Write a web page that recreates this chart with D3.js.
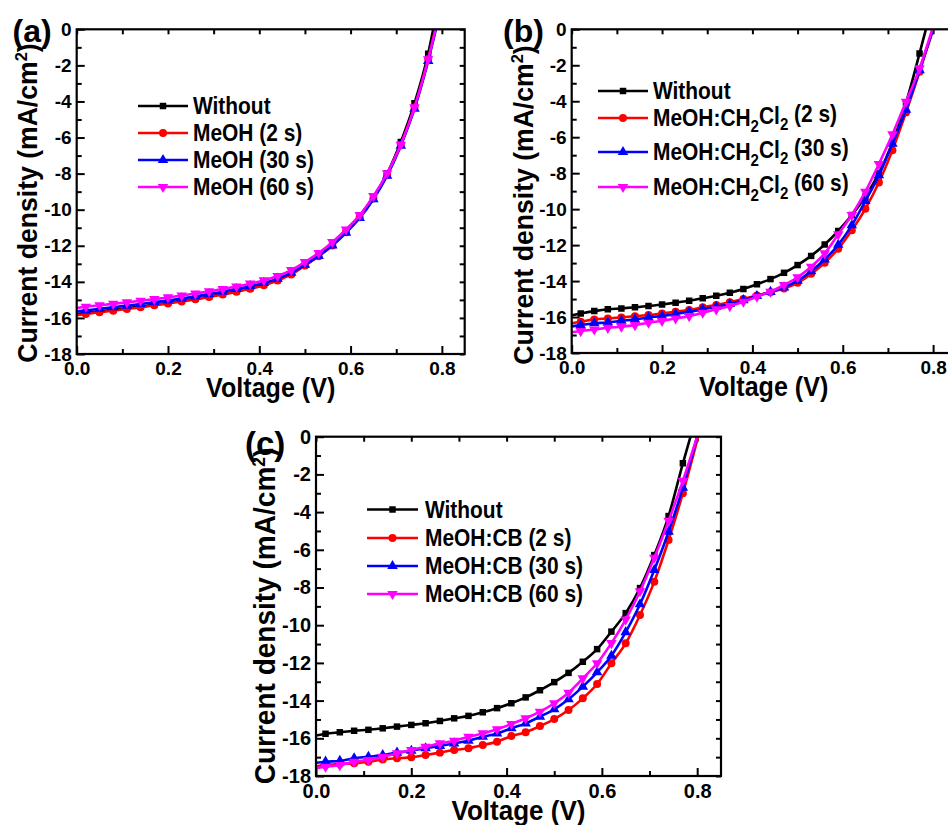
<!DOCTYPE html>
<html>
<head>
<meta charset="utf-8">
<script src="https://cdn.jsdelivr.net/npm/d3@7"></script>
<style>
body{margin:0;background:#fff;}
svg text{font-family:"Liberation Sans",Arial,sans-serif;font-weight:bold;fill:#000;}
</style>
</head>
<body>
<script>
// voltage points (V); first point is the curve start, the rest carry markers
var voltage=[0.00,0.02,0.05,0.08,0.11,0.14,0.17,0.20,0.23,0.26,0.29,0.32,0.35,0.38,0.41,0.44,0.47,0.50,0.53,0.56,0.59,0.62,0.65,0.68,0.71,0.74,0.77];

// panel (a) - MeOH
var aWithout=[-15.80,-15.72,-15.63,-15.55,-15.46,-15.37,-15.26,-15.16,-15.05,-14.94,-14.81,-14.67,-14.52,-14.35,-14.16,-13.90,-13.55,-13.07,-12.55,-11.95,-11.20,-10.35,-9.30,-8.00,-6.25,-4.10,-1.35];
var aMeoh2=[-15.85,-15.78,-15.68,-15.60,-15.50,-15.41,-15.30,-15.20,-15.09,-14.97,-14.84,-14.70,-14.55,-14.38,-14.19,-13.93,-13.59,-13.10,-12.58,-11.98,-11.25,-10.42,-9.38,-8.08,-6.40,-4.33,-1.65];
var aMeoh30=[-15.65,-15.58,-15.49,-15.41,-15.32,-15.23,-15.13,-15.03,-14.92,-14.81,-14.68,-14.55,-14.40,-14.24,-14.06,-13.82,-13.50,-13.05,-12.56,-11.98,-11.28,-10.46,-9.42,-8.12,-6.45,-4.40,-1.75];
var aMeoh60=[-15.45,-15.38,-15.30,-15.22,-15.14,-15.05,-14.96,-14.86,-14.76,-14.65,-14.53,-14.40,-14.26,-14.10,-13.92,-13.68,-13.35,-12.90,-12.40,-11.80,-11.10,-10.30,-9.25,-7.98,-6.40,-4.32,-1.66];
var aVoc=[0.781,0.786,0.787,0.786];
var aLabels=["Without","MeOH (2 s)","MeOH (30 s)","MeOH (60 s)"];

// panel (b) - MeOH:CH2Cl2
var bWithout=[-15.90,-15.80,-15.67,-15.57,-15.52,-15.46,-15.39,-15.30,-15.20,-15.09,-14.96,-14.82,-14.65,-14.44,-14.18,-13.89,-13.54,-13.11,-12.60,-11.97,-11.21,-10.33,-9.31,-8.00,-6.30,-4.10,-1.34];
var bDcm2=[-16.35,-16.26,-16.13,-16.08,-16.02,-15.95,-15.89,-15.80,-15.71,-15.61,-15.46,-15.33,-15.18,-15.00,-14.80,-14.62,-14.42,-14.10,-13.60,-12.98,-12.20,-11.18,-9.98,-8.52,-6.72,-4.62,-2.36];
var bDcm30=[-16.52,-16.45,-16.35,-16.30,-16.21,-16.13,-16.02,-15.95,-15.83,-15.71,-15.57,-15.43,-15.28,-15.06,-14.83,-14.60,-14.35,-13.98,-13.45,-12.80,-11.98,-10.90,-9.55,-8.12,-6.36,-4.47,-2.28];
var bDcm60=[-16.85,-16.78,-16.69,-16.60,-16.54,-16.45,-16.32,-16.21,-16.08,-15.95,-15.76,-15.57,-15.39,-15.15,-14.87,-14.59,-14.22,-13.79,-13.20,-12.46,-11.40,-10.33,-9.03,-7.49,-5.84,-4.03,-2.17];
var bVoc=[0.784,0.800,0.800,0.798];
var bLabels=["Without","MeOH:CH_2Cl_2 (2 s)","MeOH:CH_2Cl_2 (30 s)","MeOH:CH_2Cl_2 (60 s)"];

// panel (c) - MeOH:CB
var cWithout=[-15.85,-15.76,-15.68,-15.60,-15.55,-15.47,-15.38,-15.29,-15.20,-15.08,-14.94,-14.81,-14.62,-14.40,-14.14,-13.83,-13.45,-13.02,-12.53,-11.94,-11.27,-10.34,-9.36,-8.03,-6.28,-4.21,-1.41];
var cCb2=[-17.48,-17.42,-17.36,-17.33,-17.24,-17.12,-17.06,-17.01,-16.89,-16.76,-16.62,-16.53,-16.36,-16.18,-15.88,-15.68,-15.35,-14.98,-14.50,-13.88,-13.12,-12.02,-10.96,-9.46,-7.69,-5.48,-3.00];
var cCb30=[-17.30,-17.24,-17.20,-17.06,-16.98,-16.89,-16.76,-16.66,-16.53,-16.41,-16.27,-16.13,-15.92,-15.74,-15.47,-15.21,-14.85,-14.46,-13.93,-13.26,-12.50,-11.62,-10.37,-8.89,-7.07,-5.04,-2.70];
var cCb60=[-17.58,-17.51,-17.42,-17.24,-17.15,-16.98,-16.80,-16.62,-16.45,-16.27,-16.13,-15.92,-15.74,-15.52,-15.24,-14.94,-14.59,-14.14,-13.58,-12.82,-12.02,-10.95,-9.70,-8.20,-6.42,-4.46,-2.34];
var cVoc=[0.786,0.802,0.800,0.800];
var cLabels=["Without","MeOH:CB (2 s)","MeOH:CB (30 s)","MeOH:CB (60 s)"];

var xTicks=[0,0.2,0.4,0.6,0.8];
var xMinor=[0.1,0.3,0.5,0.7];
var yTicks=[-18,-16,-14,-12,-10,-8,-6,-4,-2,0];
var yMinor=[-17,-15,-13,-11,-9,-7,-5,-3,-1];

var colors=["#000000","#ff0000","#0000ff","#ff00ff"];
var shapes=[d3.symbolSquare,d3.symbolCircle,d3.symbolTriangle,d3.symbolTriangle];
var shapeRot=[0,0,0,180];
var shapeSize=[42,50,48,48];

var W=948,H=825;
var svg=d3.select("body").append("svg").attr("width",W).attr("height",H);
var defs=svg.append("defs");

var panels=[
  {id:"a",series:[aWithout,aMeoh2,aMeoh30,aMeoh60],voc:aVoc,labels:aLabels,
   left:76.7,top:29.3,w:388,h:324.7,tickFont:19,
   tag:"(a)",tagX:12.5,tagY:41.6,tagFont:32,
   yTitleX:37,yTitleY:203,yTitleFont:28,xTitleY:397.3,xTitleFont:27,
   legX1:138,legX2:188,legTX:193,legY:[106,133,160,187],legFont:23},
  {id:"b",series:[bWithout,bDcm2,bDcm30,bDcm60],voc:bVoc,labels:bLabels,
   left:571.7,top:29.3,w:384,h:323.7,tickFont:19,
   tag:"(b)",tagX:503,tagY:41.6,tagFont:32,
   yTitleX:533,yTitleY:205,yTitleFont:28,xTitleY:396,xTitleFont:27,
   legX1:598,legX2:648,legTX:653,legY:[91,118,152,187],legFont:23},
  {id:"c",series:[cWithout,cCb2,cCb30,cCb60],voc:cVoc,labels:cLabels,
   left:316,top:436.7,w:405,h:339.3,tickFont:20,
   tag:"(c)",tagX:245,tagY:454.7,tagFont:33,
   yTitleX:275,yTitleY:616,yTitleFont:29.5,xTitleY:820,xTitleFont:28,
   legX1:367,legX2:418,legTX:425,legY:[509.5,538,566,594],legFont:23}
];
var squeeze=0.91; // the reference lettering is slightly condensed

function styleAxis(sel,size){
  sel.select(".domain").remove();
  sel.selectAll("line").attr("stroke","#000").attr("stroke-width",2);
  sel.selectAll("text").attr("font-size",size).attr("font-family","Liberation Sans, Arial, sans-serif").attr("font-weight","bold").attr("fill","#000");
}

function addLabel(sel,label){
  // "_2" marks a subscript digit
  var parts=label.split(/_(\d)/);
  parts.forEach(function(s,i){
    if(s==="") return;
    if(i%2===1){
      sel.append("tspan").attr("font-size","0.72em").attr("dy","0.32em").text(s);
    }else{
      var t=sel.append("tspan").text(s);
      if(i>0) t.attr("dy","-0.32em");
    }
  });
}

panels.forEach(function(p){
  var g=svg.append("g").attr("transform","translate("+p.left+","+p.top+")");
  var x=d3.scaleLinear().domain([0,0.85]).range([0,p.w]);
  var y=d3.scaleLinear().domain([-18,0]).range([p.h,0]);

  defs.append("clipPath").attr("id","clip-"+p.id)
    .append("rect").attr("width",p.w).attr("height",p.h);

  // axes: ticks point inward on all four sides
  var bottom=g.append("g").attr("transform","translate(0,"+p.h+")")
    .call(d3.axisBottom(x).tickValues(xTicks).tickFormat(d3.format(".1f")).tickSize(-8).tickPadding(8));
  styleAxis(bottom,p.tickFont);
  var bottomMin=g.append("g").attr("transform","translate(0,"+p.h+")")
    .call(d3.axisBottom(x).tickValues(xMinor).tickFormat("").tickSize(-5));
  styleAxis(bottomMin,p.tickFont);
  var top=g.append("g")
    .call(d3.axisTop(x).tickValues(xTicks.concat(xMinor)).tickFormat("").tickSize(-5));
  styleAxis(top,p.tickFont);
  var left=g.append("g")
    .call(d3.axisLeft(y).tickValues(yTicks).tickFormat(function(d){return String(d);}).tickSize(-8).tickPadding(5));
  styleAxis(left,p.tickFont);
  var leftMin=g.append("g")
    .call(d3.axisLeft(y).tickValues(yMinor).tickFormat("").tickSize(-5));
  styleAxis(leftMin,p.tickFont);
  var right=g.append("g").attr("transform","translate("+p.w+",0)")
    .call(d3.axisRight(y).tickValues(yTicks.concat(yMinor)).tickFormat("").tickSize(-5));
  styleAxis(right,p.tickFont);

  // curves
  var plot=g.append("g").attr("clip-path","url(#clip-"+p.id+")");
  var line=d3.line().x(function(d){return x(d[0]);}).y(function(d){return y(d[1]);}).curve(d3.curveMonotoneX);
  p.series.forEach(function(js,k){
    var pts=voltage.map(function(v,i){return [v,js[i]];});
    pts.push([p.voc[k],0]);
    plot.append("path").datum(pts)
      .attr("d",line).attr("fill","none")
      .attr("stroke",colors[k]).attr("stroke-width",2.6).attr("stroke-linejoin","round");
    var sym=d3.symbol().type(shapes[k]).size(shapeSize[k]);
    plot.selectAll(".m"+k).data(pts.slice(1,voltage.length)).enter()
      .append("path").attr("class","m"+k)
      .attr("d",sym)
      .attr("transform",function(d){return "translate("+x(d[0])+","+y(d[1])+") rotate("+shapeRot[k]+")";})
      .attr("fill",colors[k]);
  });

  // frame
  g.append("rect").attr("width",p.w).attr("height",p.h)
    .attr("fill","none").attr("stroke","#000").attr("stroke-width",2.2);

  // titles
  svg.append("text")
    .attr("transform","translate("+(p.left+p.w/2)+","+p.xTitleY+") scale(0.93,1)")
    .attr("text-anchor","middle").attr("font-size",p.xTitleFont).text("Voltage (V)");
  var yt=svg.append("text")
    .attr("transform","translate("+p.yTitleX+","+p.yTitleY+") rotate(-90) scale(0.95,1)")
    .attr("text-anchor","middle").attr("font-size",p.yTitleFont);
  yt.append("tspan").text("Current density (mA/cm");
  yt.append("tspan").attr("font-size","0.62em").attr("dy","-0.55em").text("2");
  yt.append("tspan").attr("dy","0.34em").text(")");

  svg.append("text").attr("x",p.tagX).attr("y",p.tagY)
    .attr("font-size",p.tagFont).text(p.tag);

  // legend
  p.labels.forEach(function(lab,k){
    var ly=p.legY[k];
    svg.append("line").attr("x1",p.legX1).attr("x2",p.legX2).attr("y1",ly).attr("y2",ly)
      .attr("stroke",colors[k]).attr("stroke-width",2.6);
    svg.append("path")
      .attr("d",d3.symbol().type(shapes[k]).size(shapeSize[k]))
      .attr("transform","translate("+((p.legX1+p.legX2)/2)+","+ly+") rotate("+shapeRot[k]+")")
      .attr("fill",colors[k]);
    var t=svg.append("text")
      .attr("transform","translate("+p.legTX+","+(ly+p.legFont*0.36)+") scale("+squeeze+",1)")
      .attr("font-size",p.legFont);
    addLabel(t,lab);
  });
});
</script>
</body>
</html>
